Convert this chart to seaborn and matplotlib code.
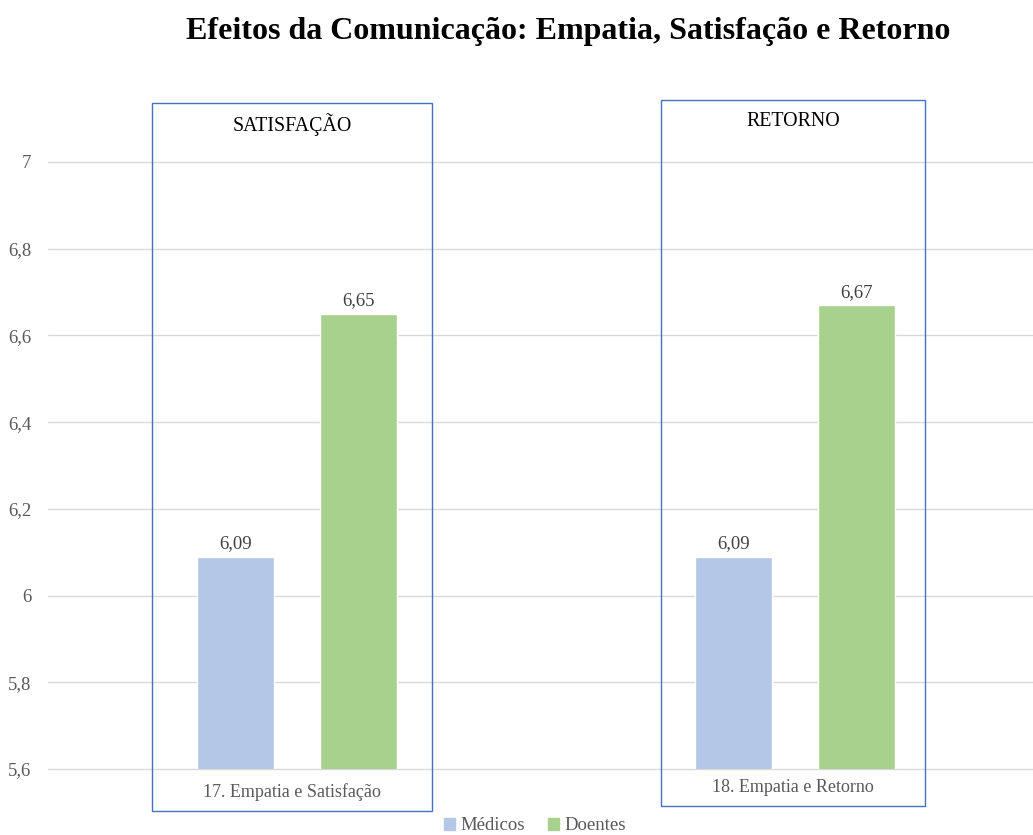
import numpy as np
import matplotlib.pyplot as plt
import matplotlib.patches as mpatches
import seaborn as sns
import pandas as pd

categorias = ['17. Empatia e Satisfação', '18. Empatia e Retorno']
grupos = ['Médicos', 'Doentes']
medicos = [6.09, 6.09]
doentes = [6.65, 6.67]
caixas = ['SATISFAÇÃO', 'RETORNO']
yticks = [5.6, 5.8, 6.0, 6.2, 6.4, 6.6, 6.8, 7.0]

df = pd.DataFrame({
    'categoria': categorias * 2,
    'grupo': [grupos[0]] * 2 + [grupos[1]] * 2,
    'valor': medicos + doentes,
})

sns.set_style('white')
plt.rcParams['font.family'] = ['Liberation Serif', 'DejaVu Serif']

W, H = 1033, 835
fig = plt.figure(figsize=(10.33, 8.35), dpi=100)
ax = fig.add_axes([48 / W, 0.079, 996 / W, 0.727])

cores = {'Médicos': '#B4C7E7', 'Doentes': '#A9D18E'}
sns.barplot(data=df, x='categoria', y='valor', hue='grupo', palette=cores,
            saturation=1, width=0.494, gap=0.37, ax=ax, legend=False, zorder=3)

ax.set_ylim(5.6, 7.0)
ax.set_yticks(yticks)
ax.set_yticklabels([f'{t:g}'.replace('.', ',') for t in yticks], fontsize=13.5, color='#595959')
ax.tick_params(axis='y', length=0, pad=12)
ax.tick_params(axis='x', length=0)
ax.set_xticklabels([])
ax.set_xlabel('')
ax.set_ylabel('')
ax.grid(axis='y', color='#D9D9D9', linewidth=1, zorder=0)
for gl in ax.get_ygridlines():
    gl.set_clip_on(False)
ax.set_axisbelow(True)
for s in ax.spines.values():
    s.set_visible(False)

for p in ax.patches:
    h = p.get_height()
    if h > 0:
        ax.annotate(f'{h:.2f}'.replace('.', ','), (p.get_x() + p.get_width() / 2, h),
                    xytext=(0, 3), textcoords='offset points',
                    ha='center', va='bottom', fontsize=13.5, color='#404040')

# caixas em volta de cada grupo (coordenadas da figura)
boxes_px = [(152, 103, 432, 811), (661, 100, 925, 806)]
for (x0, y0, x1, y1), titulo, cat in zip(boxes_px, caixas, categorias):
    rect = mpatches.Rectangle((x0 / W, 1 - y1 / H), (x1 - x0) / W, (y1 - y0) / H,
                              transform=fig.transFigure, fill=False,
                              edgecolor='#4472C4', linewidth=1)
    fig.patches.append(rect)
    cx = (x0 + x1) / 2 / W
    fig.text(cx, 1 - (y0 + 22) / H, titulo, ha='center', va='center',
             fontsize=14.3, color='black')
    fig.text(cx, 1 - (y1 - 19) / H, cat, ha='center', va='center',
             fontsize=13, color='#595959')

fig.text(0.55, 1 - 32 / H, 'Efeitos da Comunicação: Empatia, Satisfação e Retorno',
         ha='center', va='center', fontsize=23, fontweight='bold', color='black')

handles = [mpatches.Patch(color=cores[g], label=g) for g in grupos]
fig.legend(handles=handles, loc='center', bbox_to_anchor=(535 / W, 1 - 826 / H),
           ncol=2, frameon=False, fontsize=13.5, handlelength=0.6, handleheight=0.6,
           handletextpad=0.3, columnspacing=1.2, labelcolor='#595959')

fig.savefig('out.png', dpi=100)
